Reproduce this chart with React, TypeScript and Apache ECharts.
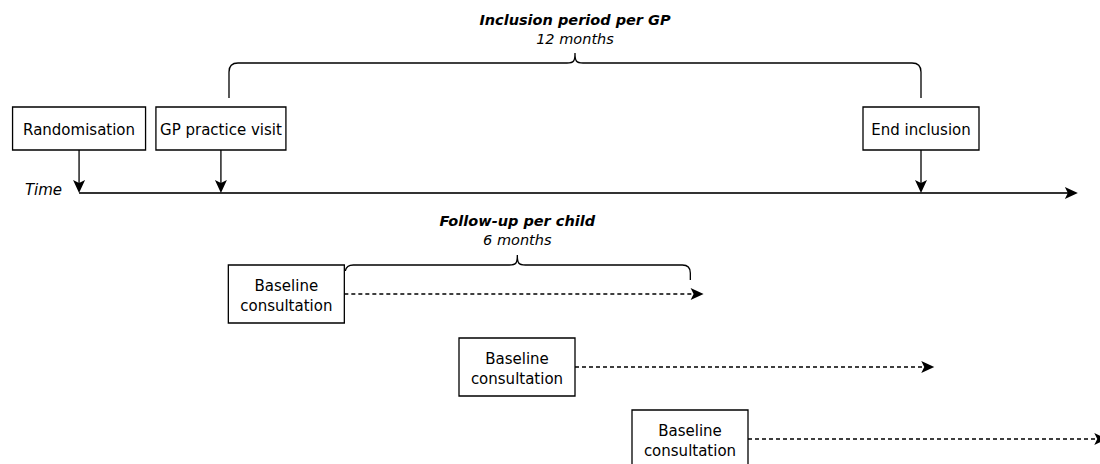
import React, { useEffect, useRef } from "react";
import * as echarts from "echarts";

// ---- data (months on the time axis; month 0 = start of inclusion) ----
const milestoneLabels = ["Randomisation", "GP practice visit", "End inclusion"];
const milestoneMonths = [-2.6, -0.14, 12];
const timeAxisStartMonth = -2.6;
const timeAxisEndMonth = 14.72;
const timeLabel = "Time";

const periodTitles = ["Inclusion period per GP", "Follow-up per child"];
const periodDurationLabels = ["12 months", "6 months"];
const periodStartMonths = [0, 2];
const periodLengthMonths = [12, 6];

const consultationLabel = ["Baseline", "consultation"];
const consultationMonths = [2, 6, 9];
const followUpMonths = 6;
const followUpArrowOverrun = 0.23;

const X_MIN = -3.971;
const X_MAX = 15.104;

const FONT = "'DejaVu Sans', Verdana, sans-serif";
const INK = "#000";
const TXT = "#000";
const BOX_FS = 15;
const TITLE_FS = 14.5;

function arrowHead(tipX: number, tipY: number, dir: "right" | "down", len = 12, half = 5.5, notch = 3) {
  if (dir === "right") {
    return [
      [tipX, tipY],
      [tipX - len, tipY - half],
      [tipX - len + notch, tipY],
      [tipX - len, tipY + half],
    ];
  }
  return [
    [tipX, tipY],
    [tipX - half, tipY - len],
    [tipX, tipY - len + notch],
    [tipX + half, tipY - len],
  ];
}

export default function App() {
  const ref = useRef<HTMLDivElement>(null);
  useEffect(() => {
    document.body.style.margin = "0";
    const chart = echarts.init(ref.current!, null, { renderer: "svg" });
    const AXIS_Y = 193;

    const option: any = {
      animation: false,
      grid: { left: 0, right: 0, top: 0, bottom: 0 },
      xAxis: { type: "value", min: X_MIN, max: X_MAX, show: false },
      yAxis: { type: "value", min: 0, max: 464, inverse: true, show: false },
      series: [
        // time axis
        {
          type: "custom",
          clip: false,
          data: [[timeAxisStartMonth, timeAxisEndMonth]],
          renderItem: (_p: any, api: any) => {
            const x1 = api.coord([api.value(0), 0])[0];
            const x2 = api.coord([api.value(1), 0])[0];
            return {
              type: "group",
              children: [
                {
                  type: "line",
                  shape: { x1, y1: AXIS_Y, x2: x2 - 8, y2: AXIS_Y },
                  style: { stroke: "#333", lineWidth: 2 },
                },
                {
                  type: "polygon",
                  shape: { points: arrowHead(x2, AXIS_Y, "right", 13, 6, 3) },
                  style: { fill: INK },
                },
                {
                  type: "text",
                  style: {
                    text: timeLabel,
                    x: x1 - 17,
                    y: AXIS_Y - 3,
                    align: "right",
                    verticalAlign: "middle",
                    fontFamily: FONT,
                    fontStyle: "italic",
                    fontSize: BOX_FS,
                    fill: TXT,
                  },
                },
              ],
            };
          },
        },
        // milestones
        {
          type: "custom",
          clip: false,
          data: milestoneMonths.map((m, i) => [m, i]),
          renderItem: (p: any, api: any) => {
            const cx = api.coord([api.value(0), 0])[0];
            const label = milestoneLabels[p.dataIndex];
            const widths = [133, 130, 116];
            const w = widths[p.dataIndex];
            const top = 107;
            const h = 43;
            return {
              type: "group",
              children: [
                {
                  type: "line",
                  shape: { x1: cx, y1: top + h, x2: cx, y2: AXIS_Y - 8 },
                  style: { stroke: INK, lineWidth: 1.3 },
                },
                {
                  type: "polygon",
                  shape: { points: arrowHead(cx, AXIS_Y, "down", 13, 6, 3) },
                  style: { fill: INK },
                },
                {
                  type: "rect",
                  shape: { x: cx - w / 2, y: top, width: w, height: h },
                  style: { fill: "#fff", stroke: INK, lineWidth: 1.3 },
                },
                {
                  type: "text",
                  style: {
                    text: label,
                    x: cx,
                    y: top + h / 2 + 1,
                    align: "center",
                    verticalAlign: "middle",
                    fontFamily: FONT,
                    fontSize: BOX_FS,
                    fill: TXT,
                  },
                },
              ],
            };
          },
        },
        // periods (braces)
        {
          type: "custom",
          clip: false,
          data: periodStartMonths.map((s, i) => [s, s + periodLengthMonths[i]]),
          renderItem: (p: any, api: any) => {
            const L = api.coord([api.value(0), 0])[0];
            const R = api.coord([api.value(1), 0])[0];
            const mid = (L + R) / 2;
            const i = p.dataIndex;
            let d: string;
            let titleY: number;
            if (i === 0) {
              const yb = 98, yt = 63, r = 9, nt = 53;
              d =
                `M ${L} ${yb} L ${L} ${yt + r} Q ${L} ${yt} ${L + r} ${yt} ` +
                `L ${mid - 8} ${yt} C ${mid - 1} ${yt} ${mid} ${yt - 2} ${mid} ${nt} ` +
                `C ${mid} ${yt - 2} ${mid + 1} ${yt} ${mid + 8} ${yt} ` +
                `L ${R - r} ${yt} Q ${R} ${yt} ${R} ${yt + r} L ${R} ${yb}`;
              titleY = 20;
            } else {
              const yt = 265, nt = 255;
              d =
                `M ${L + 1} ${yt + 6} Q ${L + 2} ${yt} ${L + 9} ${yt} ` +
                `L ${mid - 8} ${yt} C ${mid - 1} ${yt} ${mid} ${yt - 2} ${mid} ${nt} ` +
                `C ${mid} ${yt - 2} ${mid + 1} ${yt} ${mid + 8} ${yt} ` +
                `L ${R - 8} ${yt} Q ${R} ${yt} ${R} ${yt + 8} L ${R} ${yt + 15}`;
              titleY = 221;
            }
            return {
              type: "group",
              children: [
                {
                  type: "path",
                  shape: { pathData: d },
                  style: { fill: "none", stroke: INK, lineWidth: 1.3 },
                },
                {
                  type: "text",
                  style: {
                    text: periodTitles[i],
                    x: mid,
                    y: titleY,
                    align: "center",
                    verticalAlign: "middle",
                    fontFamily: FONT,
                    fontStyle: "italic",
                    fontWeight: "bold",
                    fontSize: TITLE_FS,
                    fill: TXT,
                  },
                },
                {
                  type: "text",
                  style: {
                    text: periodDurationLabels[i],
                    x: mid,
                    y: titleY + 19,
                    align: "center",
                    verticalAlign: "middle",
                    fontFamily: FONT,
                    fontStyle: "italic",
                    fontSize: TITLE_FS,
                    fill: TXT,
                  },
                },
              ],
            };
          },
        },
        // baseline consultations + follow-up arrows
        {
          type: "custom",
          clip: false,
          data: consultationMonths.map((m) => [m, m + followUpMonths + followUpArrowOverrun]),
          renderItem: (p: any, api: any) => {
            const right = api.coord([api.value(0), 0])[0];
            const tip = api.coord([api.value(1), 0])[0];
            const tops = [265, 338, 410];
            const top = tops[p.dataIndex];
            const w = 116;
            const h = 58;
            const cy = top + h / 2;
            return {
              type: "group",
              children: [
                {
                  type: "line",
                  shape: { x1: right, y1: cy, x2: tip - 9, y2: cy },
                  style: { stroke: INK, lineWidth: 1.3, lineDash: [4, 3] },
                },
                {
                  type: "polygon",
                  shape: { points: arrowHead(tip, cy, "right", 13, 6, 3) },
                  style: { fill: INK },
                },
                {
                  type: "rect",
                  shape: { x: right - w, y: top, width: w, height: h },
                  style: { fill: "#fff", stroke: INK, lineWidth: 1.3 },
                },
                {
                  type: "text",
                  style: {
                    text: consultationLabel[0],
                    x: right - w / 2,
                    y: cy - 8,
                    align: "center",
                    verticalAlign: "middle",
                    fontFamily: FONT,
                    fontSize: BOX_FS,
                    fill: TXT,
                  },
                },
                {
                  type: "text",
                  style: {
                    text: consultationLabel[1],
                    x: right - w / 2,
                    y: cy + 12,
                    align: "center",
                    verticalAlign: "middle",
                    fontFamily: FONT,
                    fontSize: BOX_FS,
                    fill: TXT,
                  },
                },
              ],
            };
          },
        },
      ],
    };
    chart.setOption(option);
    return () => chart.dispose();
  }, []);
  return (
    <div
      ref={ref}
      style={{ position: "absolute", left: 0, top: 0, width: 1100, height: 464, background: "#fff" }}
    />
  );
}
